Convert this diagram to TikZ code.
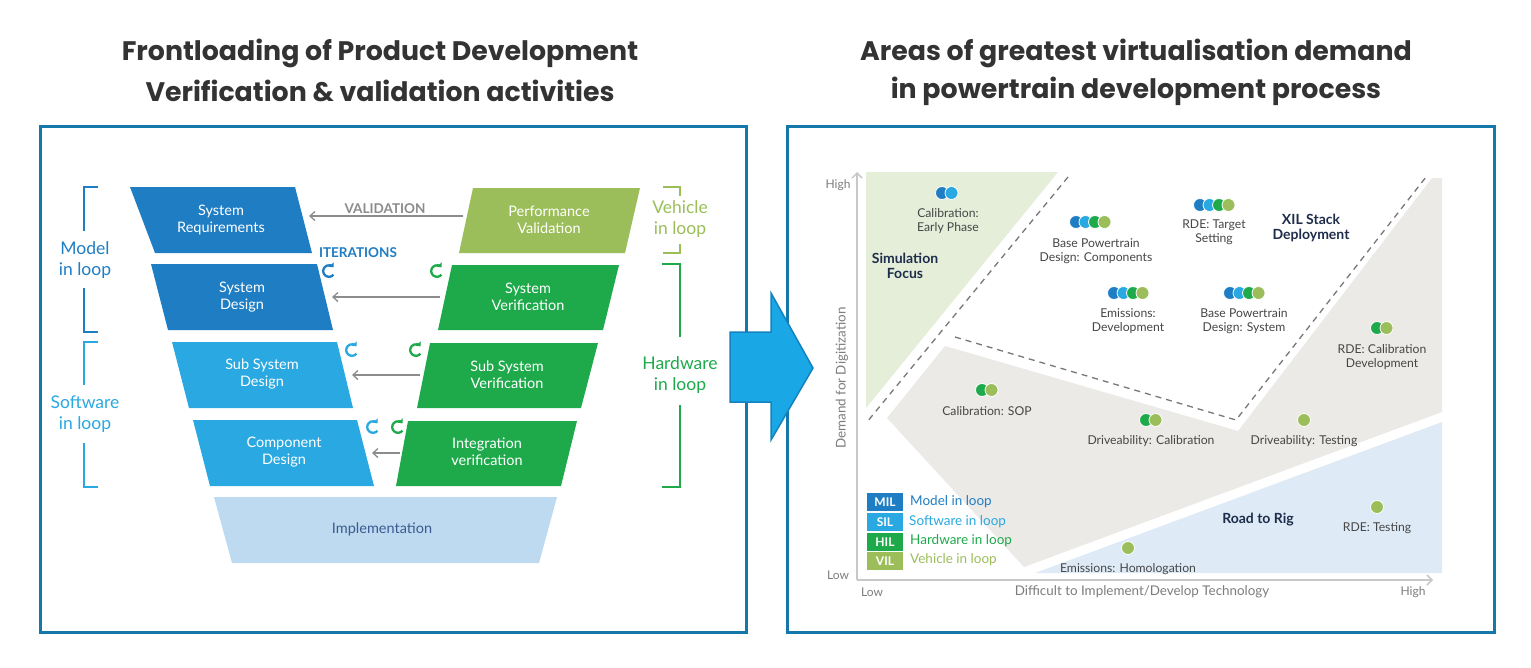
\documentclass[tikz,border=0pt]{standalone}
\usepackage{fontspec}
\setmainfont{Lato}
\newfontfamily\titlefont{Poppins}
\usetikzlibrary{arrows.meta}
\definecolor{mil}{RGB}{31,125,196}
\definecolor{sil}{RGB}{41,168,225}
\definecolor{hil}{RGB}{30,170,75}
\definecolor{vil}{RGB}{155,190,90}
\definecolor{impl}{RGB}{189,218,240}
\definecolor{impltext}{RGB}{60,90,145}
\definecolor{framec}{RGB}{20,120,170}
\definecolor{bigarrow}{RGB}{26,167,230}
\definecolor{bigarrowline}{RGB}{20,130,190}
\definecolor{titlec}{RGB}{51,51,51}
\definecolor{conn}{RGB}{140,140,140}
\definecolor{axisc}{RGB}{200,200,200}
\definecolor{axtext}{RGB}{125,125,125}
\definecolor{lbl}{RGB}{70,70,70}
\definecolor{navy}{RGB}{30,45,75}
\definecolor{reggray}{RGB}{236,234,231}
\definecolor{reggreen}{RGB}{228,238,217}
\definecolor{regblue}{RGB}{222,235,247}
\definecolor{dashc}{RGB}{120,120,120}
\newcommand\dotcluster[3]{%
  \foreach \cc [count=\ii from 0] in {#3} {%
    \fill[\cc,draw=white,line width=0.8pt] (#1+\ii*9.5,#2) circle (6.5);}}
\begin{document}
\begin{tikzpicture}[x=1pt,y=-1pt,
  title/.style={font=\titlefont\bfseries\fontsize{26.8}{30}\selectfont,text=titlec},
  panel/.style={draw=framec,line width=3pt},
  boxtext/.style={font=\fontsize{14.5}{17}\selectfont,text=white,align=center},
  conn/.style={draw=conn,line width=1.3pt,-{Straight Barb[length=5pt,width=9pt]}},
  looplbl/.style={font=\fontsize{17.5}{21}\selectfont,align=center},
  bracket/.style={line width=1.6pt},
  loopicon/.pic={\draw[line width=2.3pt,-{Triangle[length=3.5pt,width=6.5pt]}] (40:5.8) arc (40:320:5.8);},
  axis/.style={draw=axisc,line width=1.5pt,-{Straight Barb[length=5pt,width=10pt]}},
  axlbl/.style={font=\fontsize{12}{14}\selectfont,text=axtext},
  clbl/.style={font=\fontsize{12.2}{14.5}\selectfont,text=lbl,align=center},
  blbl/.style={font=\bfseries\fontsize{14}{15.5}\selectfont,text=navy,align=center},
  legbox/.style={font=\bfseries\fontsize{12}{13}\selectfont,text=white,minimum width=36pt,minimum height=18pt,inner sep=0pt},
  legtext/.style={font=\fontsize{13.5}{15}\selectfont,anchor=west,inner sep=0pt},
  dashline/.style={draw=dashc,line width=1.3pt,dash pattern=on 6pt off 5pt}
]
\useasboundingbox (0,0) rectangle (1531,667);
\fill[white] (0,0) rectangle (1531,667);

% titles
\node[title] (t1a) at (380,53) {Frontloading of Product Development};
\node[title] (t1b) at (380,91) {Verification \& validation activities};
\node[title] (t2a) at (1136,53) {Areas of greatest virtualisation demand};
\node[title] (t2b) at (1136,91) {in powertrain development process};

% panels
\draw[panel] (40,126) rectangle (746,632);
\draw[panel] (787,126) rectangle (1494,632);

% ---------- left: V model ----------
\fill[mil] (130,187) -- (295,187) -- (312,253) -- (155,253) -- cycle;
\fill[mil] (151,264) -- (317,264) -- (333,330) -- (168,330) -- cycle;
\fill[sil] (172,342) -- (337,342) -- (353,408) -- (189,408) -- cycle;
\fill[sil] (193,420) -- (357,420) -- (374,486) -- (210,486) -- cycle;
\fill[impl] (214,497) -- (557,497) -- (539,563) -- (232,563) -- cycle;
\fill[vil] (473,188) -- (640,188) -- (625,253) -- (459,253) -- cycle;
\fill[hil] (452,265) -- (619,265) -- (603,330) -- (438,330) -- cycle;
\fill[hil] (430,343) -- (598,343) -- (581,408) -- (417,408) -- cycle;
\fill[hil] (408,421) -- (577,421) -- (561,486) -- (396,486) -- cycle;

\node[boxtext] (sr) at (221,220) {System\\Requirements};
\node[boxtext] (sd) at (242,297) {System\\Design};
\node[boxtext] (ssd) at (262,374) {Sub System\\Design};
\node[boxtext] (cd) at (284,452) {Component\\Design};
\node[boxtext,text=impltext] (im) at (382,529) {Implementation};
\node[boxtext] (pv) at (549,220) {Performance\\Validation};
\node[boxtext] (sv) at (528,297) {System\\Verification};
\node[boxtext] (ssv) at (507,375) {Sub System\\Verification};
\node[boxtext] (iv) at (487,452) {Integration\\verification};

% connectors
\coordinate (a1s) at (463,216); \coordinate (a1e) at (309,216);
\coordinate (a2s) at (440,297); \coordinate (a2e) at (332,297);
\coordinate (a3s) at (420,375); \coordinate (a3e) at (352,375);
\coordinate (a4s) at (400,453); \coordinate (a4e) at (372,453);
\draw[conn] (a1s) -- (a1e);
\draw[conn] (a2s) -- (a2e);
\draw[conn] (a3s) -- (a3e);
\draw[conn] (a4s) -- (a4e);
\node[font=\bfseries\fontsize{13.5}{14}\selectfont,text=conn] (val) at (385,209) {VALIDATION};
\node[font=\bfseries\fontsize{13.5}{14}\selectfont,text=mil] (iter) at (358,253) {ITERATIONS};

% iteration icons
\pic[mil] at (329,271) {loopicon};
\pic[hil] at (437,271) {loopicon};
\pic[sil] at (352,350) {loopicon};
\pic[hil] at (416,350) {loopicon};
\pic[sil] at (373,427) {loopicon};
\pic[hil] at (398,427) {loopicon};

% brackets
\draw[bracket,mil] (98,187) -- (84,187) -- (84,231);
\draw[bracket,mil] (84,288) -- (84,332) -- (98,332);
\node[looplbl,text=mil] (mill) at (85,260) {Model\\in loop};
\draw[bracket,sil] (98,342) -- (84,342) -- (84,385);
\draw[bracket,sil] (84,443) -- (84,487) -- (98,487);
\node[looplbl,text=sil] (sill) at (85,414) {Software\\in loop};
\draw[bracket,vil] (663,187) -- (680,187) -- (680,196);
\draw[bracket,vil] (680,244) -- (680,253) -- (663,253);
\node[looplbl,text=vil] (vill) at (680,219) {Vehicle\\in loop};
\draw[bracket,hil] (662,264) -- (680,264) -- (680,337);
\draw[bracket,hil] (680,405) -- (680,487) -- (662,487);
\node[looplbl,text=hil] (hill) at (680,375) {Hardware\\in loop};

% big arrow
\draw[fill=bigarrow,draw=bigarrowline,line width=1.5pt,line join=miter]
  (730,332) -- (771,332) -- (771,293) -- (813,368) -- (771,440) -- (771,402) -- (730,402) -- cycle;

% ---------- right: chart ----------
\fill[reggreen] (866,172) -- (1058,172) -- (866,408) -- cycle;
\fill[reggray] (945,346) -- (1238,431) -- (1432,178) -- (1442,178) -- (1442,412) -- (1024,567) -- (887,418) -- cycle;
\fill[regblue] (1035,573) -- (1442,422) -- (1442,573) -- cycle;
\draw[dashline] (1068,177) -- (867,422);
\draw[dashline] (955,337) -- (1236,420) -- (1426,177);

\coordinate (orig) at (857,580);
\coordinate (ytop) at (857,172);
\coordinate (xend) at (1433,580);
\draw[axis] (orig) -- (ytop);
\draw[axis] (orig) -- (xend);
\node[axlbl] (yhi) at (838,185) {High};
\node[axlbl] (ylo) at (838,575) {Low};
\node[axlbl] (xlo) at (872,592) {Low};
\node[axlbl] (xhi) at (1413,592) {High};
\node[axlbl,font=\fontsize{13.4}{15}\selectfont] (xl) at (1142,592) {Difficult to Implement/Develop Technology};
\node[axlbl,font=\fontsize{13.4}{15}\selectfont,rotate=90] (yl) at (842,378) {Demand for Digitization};

% clusters
\dotcluster{942}{193}{mil,sil}
\dotcluster{1076}{222}{mil,sil,hil,vil}
\dotcluster{1200}{205}{mil,sil,hil,vil}
\dotcluster{1114}{293}{mil,sil,hil,vil}
\dotcluster{1230}{293}{mil,sil,hil,vil}
\dotcluster{1377}{328}{hil,vil}
\dotcluster{982}{390}{hil,vil}
\dotcluster{1146}{420}{hil,vil}
\dotcluster{1304}{420}{vil}
\dotcluster{1377}{507}{vil}
\dotcluster{1128}{548}{vil}

\node[clbl] (c1) at (948,221) {Calibration:\\Early Phase};
\node[clbl] (c2) at (1096,251) {Base Powertrain\\Design: Components};
\node[clbl] (c3) at (1214,232) {RDE: Target\\Setting};
\node[clbl] (c4) at (1128,321) {Emissions:\\Development};
\node[clbl] (c5) at (1244,321) {Base Powertrain\\Design: System};
\node[clbl] (c6) at (1382,357) {RDE: Calibration\\Development};
\node[clbl] (c7) at (987,411) {Calibration: SOP};
\node[clbl] (c8) at (1151,441) {Driveability: Calibration};
\node[clbl] (c9) at (1304,441) {Driveability: Testing};
\node[clbl] (c10) at (1377,528) {RDE: Testing};
\node[clbl] (c11) at (1128,569) {Emissions: Homologation};

\node[blbl] (sf) at (905,266) {Simulation\\Focus};
\node[blbl] (xil) at (1311,228) {XIL Stack\\Deployment};
\node[blbl] (rr) at (1258,520) {Road to Rig};

% legend
\node[legbox,fill=mil] (lm) at (885,502) {MIL};
\node[legbox,fill=sil] (ls) at (885,522) {SIL};
\node[legbox,fill=hil] (lh) at (885,542) {HIL};
\node[legbox,fill=vil] (lv) at (885,561) {VIL};
\node[legtext,text=mil] (lmt) at (910,502) {Model in loop};
\node[legtext,text=sil] (lst) at (909,522) {Software in loop};
\node[legtext,text=hil] (lht) at (910,541) {Hardware in loop};
\node[legtext,text=vil] (lvt) at (910,560) {Vehicle in loop};
\end{tikzpicture}
\end{document}
